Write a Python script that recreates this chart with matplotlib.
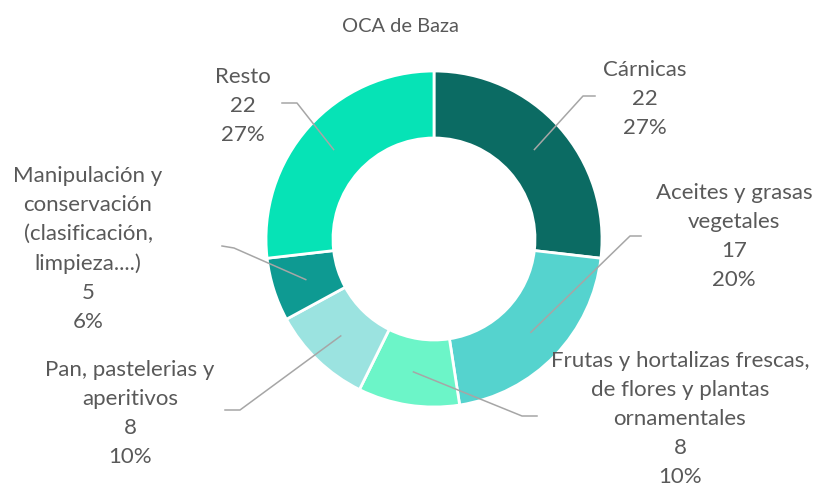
import numpy as np
import matplotlib
matplotlib.use("Agg")
import matplotlib.pyplot as plt

# ---- data ----
title = "OCA de Baza"
categories = ["Cárnicas", "Aceites y grasas\nvegetales",
              "Frutas y hortalizas frescas,\nde flores y plantas\nornamentales",
              "Pan, pastelerias y\naperitivos",
              "Manipulación y\nconservación\n(clasificación,\nlimpieza....)",
              "Resto"]
values = [22, 17, 8, 8, 5, 22]
percents = [27, 20, 10, 10, 6, 27]
colors = ["#0B6B63", "#55D3CE", "#6CF5C8", "#9BE3E0", "#0E9A92", "#06E3B6"]

# ---- layout (pixel coordinates) ----
W, H = 823, 489
center = (434, 240)
r_out = 168
ring_w = 67
label_pos = [(645, 60), (734, 183), (680, 351), (130, 360), (88, 166), (243, 67)]
elbows = [((583, 97), (595, 97)),
          ((630, 237), (641, 237)),
          ((522, 417), (537, 417)),
          ((240, 411), (225, 411)),
          ((234, 249), (222, 247)),
          ((297, 104), (282, 104))]

plt.rcParams['font.family'] = ['Lato', 'DejaVu Sans']
txt_color = "#595959"
line_color = "#A6A6A6"

fig = plt.figure(figsize=(W / 100, H / 100), dpi=100)
ax = fig.add_axes([0, 0, 1, 1])

wedges, _ = ax.pie(values, colors=colors, startangle=-90, counterclock=True,
                   center=center, radius=r_out,
                   wedgeprops=dict(width=ring_w, edgecolor="white", linewidth=2))
ax.set_xlim(0, W)
ax.set_ylim(H, 0)
ax.set_aspect("equal")
ax.axis("off")

total = sum(values)
cum = 0
r_mid = r_out - ring_w / 2
for i, v in enumerate(values):
    theta = np.deg2rad(-90 + 360 * (cum + v / 2) / total)
    cum += v
    sx = center[0] + r_mid * np.cos(theta)
    sy = center[1] + r_mid * np.sin(theta)
    (ex, ey), (fx, fy) = elbows[i]
    ax.plot([sx, ex, fx], [sy, ey, fy], color=line_color, lw=1.1, zorder=3)
    lx, ly = label_pos[i]
    ax.text(lx, ly, f"{categories[i]}\n{values[i]}\n{percents[i]}%",
            ha="center", va="top", fontsize=16, color=txt_color,
            linespacing=1.56, multialignment="center")

ax.text(400, 27, title, ha="center", va="center", fontsize=14.4, color=txt_color)

fig.savefig("out.png", dpi=100, facecolor="white")
